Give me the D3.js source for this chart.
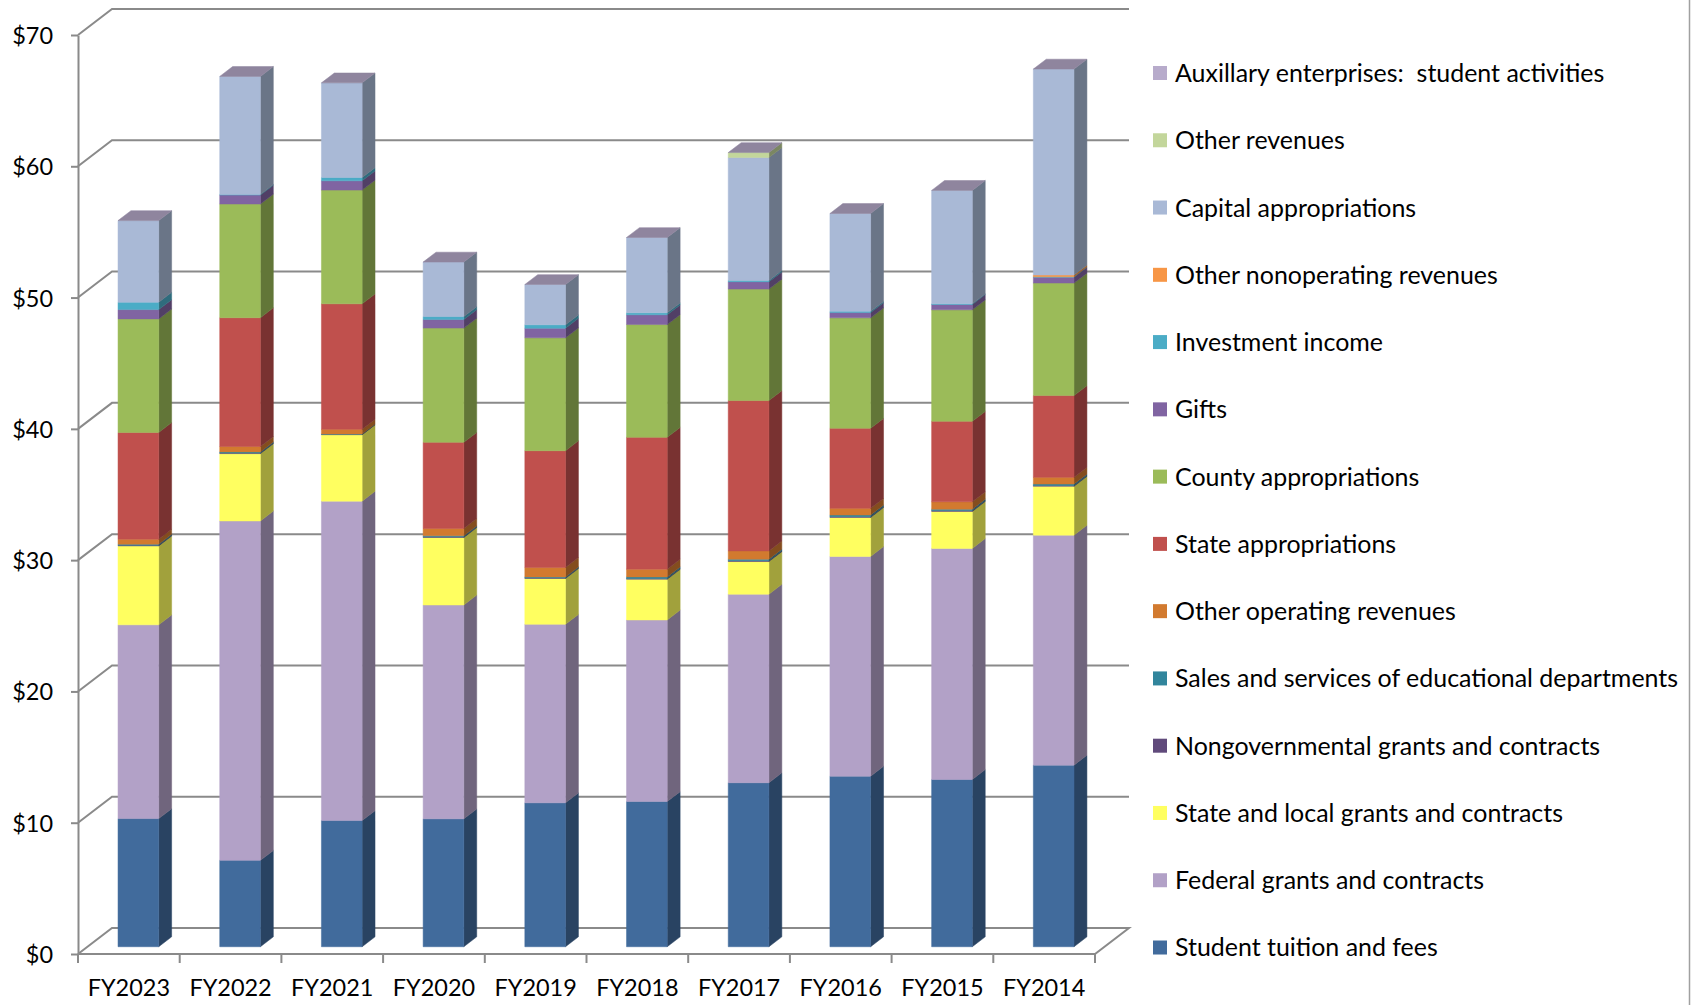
<!DOCTYPE html>
<html><head><meta charset="utf-8">
<script src="https://cdn.jsdelivr.net/npm/d3@7"></script>
<style>
html,body{margin:0;padding:0;background:#fff;}
svg{display:block;font-family:Lato,"Open Sans",sans-serif;}
</style>
</head><body>
<svg id="chart" width="1694" height="1005"></svg>
<script>
// ---------- DATA ($ millions) ----------
const categories = ["FY2023","FY2022","FY2021","FY2020","FY2019","FY2018","FY2017","FY2016","FY2015","FY2014"];

const studentTuition      = [9.76, 6.58, 9.61, 9.74, 10.96, 11.06, 12.49, 12.99, 12.74, 13.83];
const federalGrants       = [14.76, 25.85, 24.33, 16.29, 13.60, 13.83, 14.36, 16.74, 17.60, 17.52];
const stateLocalGrants    = [6.01, 5.13, 5.06, 5.14, 3.49, 3.10, 2.49, 2.97, 2.82, 3.72];
const nongovGrants        = [0.05, 0.05, 0.02, 0.05, 0.05, 0.06, 0.06, 0.06, 0.06, 0.06];
const salesServices       = [0.08, 0.08, 0.03, 0.08, 0.07, 0.12, 0.12, 0.12, 0.11, 0.11];
const otherOperating      = [0.38, 0.41, 0.36, 0.56, 0.72, 0.59, 0.63, 0.51, 0.56, 0.51];
const stateAppropriations = [8.13, 9.81, 9.56, 6.56, 8.89, 10.04, 11.45, 6.10, 6.13, 6.23];
const countyAppropriations= [8.65, 8.66, 8.66, 8.70, 8.60, 8.59, 8.49, 8.41, 8.49, 8.57];
const gifts               = [0.71, 0.68, 0.71, 0.65, 0.73, 0.74, 0.56, 0.40, 0.41, 0.45];
const investmentIncome    = [0.56, 0.05, 0.25, 0.23, 0.26, 0.15, 0.10, 0.10, 0.05, 0.03];
const otherNonoperating   = [0, 0, 0, 0, 0, 0, 0, 0, 0, 0.13];
const capitalAppropriations=[6.22, 8.99, 7.21, 4.15, 3.07, 5.74, 9.36, 7.45, 8.64, 15.69];
const otherRevenues       = [0, 0, 0, 0, 0, 0, 0.38, 0, 0, 0];
const auxEnterprises      = [0, 0, 0, 0, 0, 0, 0, 0, 0, 0];

const seriesNames = [
  "Student tuition and fees",
  "Federal grants and contracts",
  "State and local grants and contracts",
  "Nongovernmental grants and contracts",
  "Sales and services of educational departments",
  "Other operating revenues",
  "State appropriations",
  "County appropriations",
  "Gifts",
  "Investment income",
  "Other nonoperating revenues",
  "Capital appropriations",
  "Other revenues",
  "Auxillary enterprises:  student activities"
];
const seriesValues = [studentTuition, federalGrants, stateLocalGrants, nongovGrants, salesServices,
  otherOperating, stateAppropriations, countyAppropriations, gifts, investmentIncome,
  otherNonoperating, capitalAppropriations, otherRevenues, auxEnterprises];
const seriesColors = ["#416B9C","#B2A1C7","#FFFF60","#604A7B","#31859C","#D27A2F","#C0504D",
  "#9BBB59","#8064A2","#4BACC6","#F79646","#A9B9D6","#C3D69B","#B7ABCB"];

const yTickValues = [0,10,20,30,40,50,60,70];

// ---------- LAYOUT ----------
const svg = d3.select("#chart");
const DX = 34, DY = 26;          // depth of the 3D box (full depth)
const F0 = 0.28, F1 = 0.66;      // bar front / back depth fractions
const proj = (x, y, f) => [x + DX * f, y - DY * f];

const y = d3.scaleLinear().domain([0, 70]).range([954, 35]);
const x = d3.scaleBand().domain(categories).range([78, 1095]).paddingInner(0.6).paddingOuter(0.3);
const step = x.step();
const x0 = x.range()[0], x1 = x.range()[1];

const gridColor = "#8A8A8A";

// fonts sized by measurement
function fitSize(str, targetW) {
  const t = svg.append("text").style("font-size", "100px").style("white-space", "pre").attr("xml:space","preserve").text(str);
  const w = t.node().getComputedTextLength();
  t.remove();
  return 100 * targetW / w;
}
const legendFS = (fitSize(seriesNames[13], 429) + fitSize(seriesNames[4], 504)) / 2;
const axisFS = (fitSize("FY2023", 80) + fitSize("$70", 42)) / 2;

// ---------- WALL / GRIDLINES ----------
const grid = svg.append("g");
yTickValues.filter(v => v > 0).forEach(v => {
  const a = [x0, y(v)], b = proj(x0, y(v), 1), c = proj(x1, y(v), 1);
  grid.append("path").attr("d", d3.line()([a, b, c]))
    .attr("fill", "none").attr("stroke", gridColor).attr("stroke-width", 2);
});
// floor
grid.append("path")
  .attr("d", d3.line()([[x0, y(0)], proj(x0, y(0), 1), proj(x1, y(0), 1), [x1, y(0)], [x0, y(0)]]))
  .attr("fill", "none").attr("stroke", gridColor).attr("stroke-width", 2);

// ---------- AXES ----------
const yAxis = svg.append("g").attr("transform", `translate(${x0},0)`)
  .call(d3.axisLeft(y).tickValues(yTickValues).tickFormat(d => "$" + d).tickSize(7).tickSizeOuter(0).tickPadding(18));
yAxis.select(".domain").attr("stroke", gridColor).attr("stroke-width", 2);
yAxis.selectAll(".tick line").attr("stroke", gridColor).attr("stroke-width", 2);
yAxis.selectAll(".tick text").attr("fill", "#000").style("font-size", axisFS + "px")
  .style("font-family", "Lato").attr("dy", "0.36em");

const xAxis = svg.append("g").attr("transform", `translate(0,${y(0)})`)
  .call(d3.axisBottom(x).tickSize(0).tickSizeOuter(0));
xAxis.select(".domain").remove();
xAxis.selectAll(".tick text").attr("fill", "#000").style("font-size", axisFS + "px")
  .style("font-family", "Lato").attr("y", 42).attr("dy", null);
// category boundary ticks
d3.range(categories.length + 1).forEach(i => {
  const xx = x0 + i * step;
  svg.append("line").attr("x1", xx).attr("x2", xx).attr("y1", y(0)).attr("y2", y(0) + 9)
    .attr("stroke", gridColor).attr("stroke-width", 2);
});

// ---------- BARS ----------
const rows = categories.map((c, i) => {
  const r = { cat: c };
  seriesNames.forEach((n, j) => r[n] = seriesValues[j][i]);
  return r;
});
const stacked = d3.stack().keys(seriesNames)(rows);

const shade = (col, k) => { const c = d3.rgb(col); return d3.rgb(c.r * k, c.g * k, c.b * k).formatHex(); };
const bars = svg.append("g");
categories.forEach((cat, i) => {
  const g = bars.append("g");
  const xl = x(cat), xr = x(cat) + x.bandwidth();
  stacked.forEach((layer, j) => {
    const [v0, v1] = layer[i];
    if (v1 - v0 <= 0) return;
    const col = seriesColors[j];
    const front = [proj(xl, y(v1), F0), proj(xr, y(v1), F0), proj(xr, y(v0), F0), proj(xl, y(v0), F0)];
    const side = [proj(xr, y(v1), F0), proj(xr, y(v1), F1), proj(xr, y(v0), F1), proj(xr, y(v0), F0)];
    g.append("path").attr("d", d3.line()(side) + "Z").attr("fill", shade(col, 0.63)).attr("stroke", shade(col, 0.63)).attr("stroke-width", 0.5);
    g.append("path").attr("d", d3.line()(front) + "Z").attr("fill", col).attr("stroke", col).attr("stroke-width", 0.5);
  });
  // top cap uses the top-most series colour
  const top = stacked[stacked.length - 1][i][1];
  const capCol = shade(seriesColors[seriesColors.length - 1], 0.78);
  const cap = [proj(xl, y(top), F0), proj(xl, y(top), F1), proj(xr, y(top), F1), proj(xr, y(top), F0)];
  g.append("path").attr("d", d3.line()(cap) + "Z").attr("fill", capCol).attr("stroke", capCol).attr("stroke-width", 0.5);
});

// ---------- LEGEND ----------
const legend = svg.append("g");
const legendTop = 73, legendStep = 67.27;
const order = d3.range(seriesNames.length).reverse();
order.forEach((j, k) => {
  const cy = legendTop + k * legendStep;
  legend.append("rect").attr("x", 1153).attr("y", cy - 7).attr("width", 14).attr("height", 14).attr("fill", seriesColors[j]);
  legend.append("text").attr("x", 1175).attr("y", cy).attr("dy", "0.36em")
    .style("font-size", legendFS + "px").style("white-space", "pre").attr("xml:space", "preserve")
    .attr("fill", "#000").text(seriesNames[j]);
});

// right border
svg.append("line").attr("x1", 1689.5).attr("x2", 1689.5).attr("y1", 0).attr("y2", 1005)
  .attr("stroke", "#A0A0A0").attr("stroke-width", 1.5);
</script>
</body></html>
